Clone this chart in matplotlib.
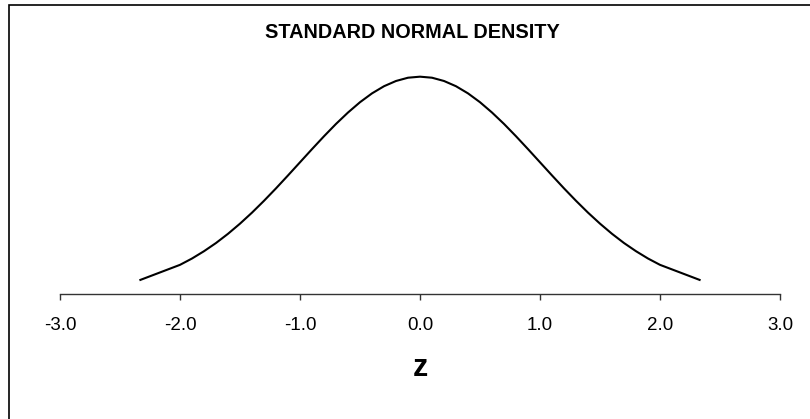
import matplotlib.pyplot as plt
from matplotlib.patches import Rectangle

# valores
z = [-2.33, -2.0, -1.9, -1.8, -1.7, -1.6, -1.5, -1.4, -1.3, -1.2, -1.1,
     -1.0, -0.9, -0.8, -0.7, -0.6, -0.5, -0.4, -0.3, -0.2, -0.1, 0.0,
     0.1, 0.2, 0.3, 0.4, 0.5, 0.6, 0.7, 0.8, 0.9, 1.0,
     1.1, 1.2, 1.3, 1.4, 1.5, 1.6, 1.7, 1.8, 1.9, 2.0, 2.33]
densidad = [0.0264, 0.0540, 0.0656, 0.0790, 0.0940, 0.1109, 0.1295, 0.1497, 0.1714, 0.1942, 0.2179,
            0.2420, 0.2661, 0.2897, 0.3123, 0.3332, 0.3521, 0.3683, 0.3814, 0.3910, 0.3970, 0.3989,
            0.3970, 0.3910, 0.3814, 0.3683, 0.3521, 0.3332, 0.3123, 0.2897, 0.2661, 0.2420,
            0.2179, 0.1942, 0.1714, 0.1497, 0.1295, 0.1109, 0.0940, 0.0790, 0.0656, 0.0540, 0.0264]
ticks_x = [-3.0, -2.0, -1.0, 0.0, 1.0, 2.0, 3.0]

plt.rcParams['font.family'] = ['Liberation Sans', 'DejaVu Sans']

fig = plt.figure(figsize=(8.1, 4.19), dpi=100)
ax = fig.add_axes([60/810, (419-294.3)/419, 720/810, 245.5/419])

ax.plot(z, densidad, color='black', linewidth=1.5)
ax.set_xlim(-3, 3)
ax.set_ylim(0, 0.45)

for lado in ['top', 'left', 'right']:
    ax.spines[lado].set_visible(False)
ax.spines['bottom'].set_color('#333333')
ax.spines['bottom'].set_linewidth(1)
ax.set_yticks([])
ax.set_xticks(ticks_x)
ax.set_xticklabels([f'{t:.1f}' for t in ticks_x], fontsize=13.5)
ax.tick_params(axis='x', direction='out', length=4.5, width=1, color='#333333', pad=12)

fig.text(412/810, 1 - 33/419, 'STANDARD NORMAL DENSITY', ha='center', va='center',
         fontsize=14.3, fontweight='bold')
fig.text(420/810, 1 - 368/419, 'z', ha='center', va='center', fontsize=22, fontweight='bold')

# marco del grafico
fig.patches.append(Rectangle((9/810, -0.1), 1.2, (419-5)/419 + 0.1, fill=False,
                             edgecolor='black', linewidth=1.2, transform=fig.transFigure))

fig.savefig('out.png', dpi=100)
